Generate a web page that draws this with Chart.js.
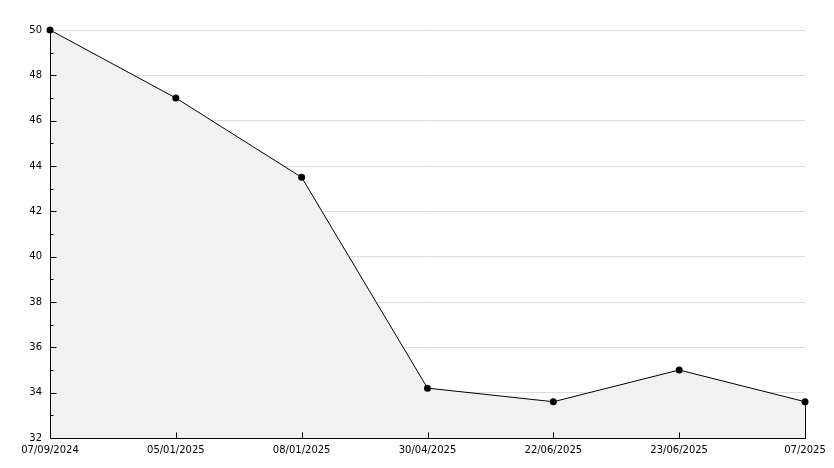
<!DOCTYPE html>
<html>
<head>
<meta charset="utf-8">
<script src="https://cdn.jsdelivr.net/npm/chart.js@4"></script>
<style>
  html, body { margin: 0; padding: 0; background: #fff; }
  #wrap { width: 834px; height: 468px; }
</style>
</head>
<body>
<div id="wrap"><canvas id="c" width="834" height="468"></canvas></div>
<script>
const labels = ['07/09/2024', '05/01/2025', '08/01/2025', '30/04/2025', '22/06/2025', '23/06/2025', '07/2025']
const values = [50, 47, 43.5, 34.2, 33.6, 35, 33.6]
const yMin = 32, yMax = 50, yStep = 2

// axis lines + small inward ticks like the original (major on even values, minor on odd)
// drawn after the datasets because the fill covers the scale borders otherwise
const innerTicks = {
  id: 'innerTicks',
  afterDatasetsDraw(chart) {
    const { ctx, scales: { x, y } } = chart
    const left = Math.round(x.left) + 0.5
    const bottom = Math.round(y.bottom) + 0.5
    ctx.save()
    ctx.strokeStyle = '#000'
    ctx.lineWidth = 1
    ctx.beginPath()
    ctx.moveTo(left, Math.round(y.top)); ctx.lineTo(left, bottom)
    ctx.lineTo(Math.round(x.right) + 1, bottom)
    // closing edge of the filled area at the last point
    const last = values.length - 1
    const lx = Math.round(x.getPixelForValue(last)) + 0.5
    ctx.moveTo(lx, y.getPixelForValue(values[last])); ctx.lineTo(lx, bottom)
    for (let v = yMin + 1; v < yMax; v += 1) {
      const py = Math.round(y.getPixelForValue(v)) + 0.5
      const len = (v - yMin) % yStep === 0 ? 6 : 3
      ctx.moveTo(left, py); ctx.lineTo(left + len, py)
    }
    for (let i = 1; i < labels.length - 1; i++) {
      const px = Math.round(x.getPixelForValue(i)) + 0.5
      ctx.moveTo(px, bottom); ctx.lineTo(px, bottom - 6)
    }
    ctx.stroke()
    ctx.restore()
  }
}

new Chart(document.getElementById('c'), {
  type: 'line',
  data: {
    labels,
    datasets: [{
      data: values,
      borderColor: '#000',
      borderWidth: 1,
      backgroundColor: '#f1f1f1',
      fill: 'start',
      tension: 0,
      clip: false,
      pointRadius: 3.5,
      pointBackgroundColor: '#000',
      pointBorderColor: '#000',
      pointBorderWidth: 0
    }]
  },
  options: {
    responsive: false,
    animation: false,
    layout: { padding: { top: 30, right: 29, left: 0, bottom: 0 } },
    plugins: { legend: { display: false }, tooltip: { enabled: false } },
    scales: {
      x: {
        offset: false,
        grid: { display: false, drawTicks: false },
        border: { display: false },
        ticks: { color: '#000', font: { family: 'DejaVu Sans', size: 10 }, padding: 6, maxRotation: 0, autoSkip: false },
        afterFit(s) { s.height = 30 }
      },
      y: {
        min: yMin, max: yMax,
        grid: { color: '#dcdcdc', drawTicks: false },
        border: { display: false },
        ticks: { stepSize: yStep, color: '#000', font: { family: 'DejaVu Sans', size: 10 }, padding: 8 },
        afterFit(s) { s.width = 50 }
      }
    }
  },
  plugins: [innerTicks]
})
</script>
</body>
</html>
